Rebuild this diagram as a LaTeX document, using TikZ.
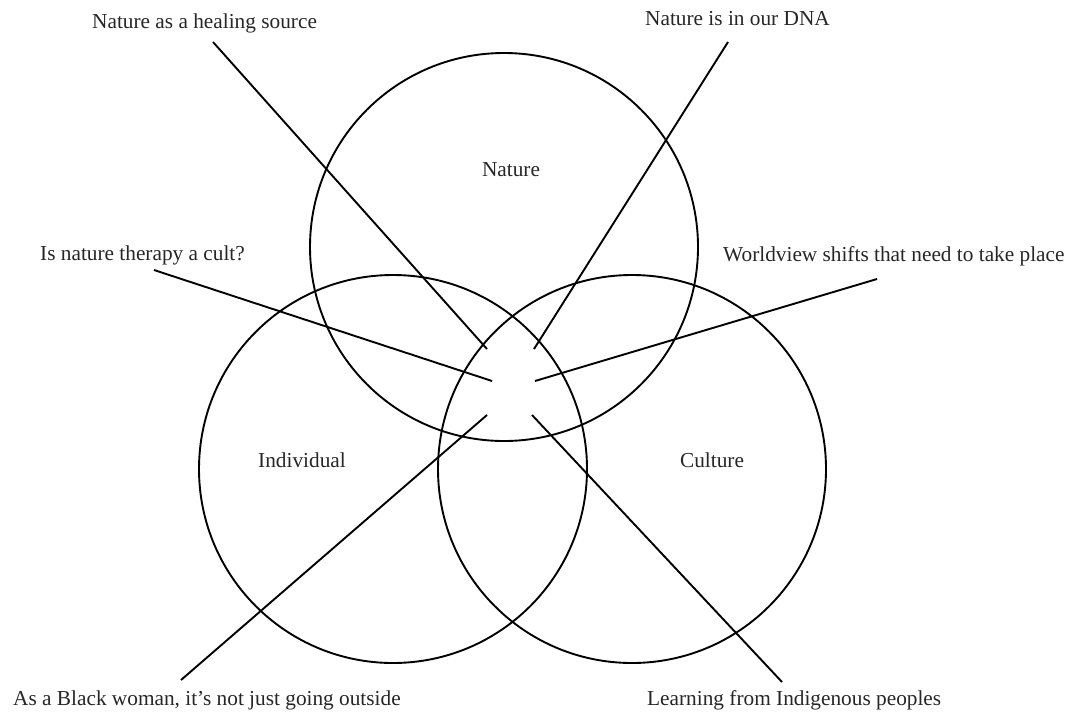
\documentclass[tikz,border=0pt]{standalone}
\usepackage{fontspec}
\setmainfont{Liberation Serif}
\begin{document}
\begin{tikzpicture}[x=1pt,y=-1pt,
  ring/.style={draw, line width=1.9pt, circle, minimum size=388pt, inner sep=0pt},
  link/.style={draw, line width=1.9pt},
  lbl/.style={font=\fontsize{21.3}{24}\selectfont, inner sep=0pt, text=black!85}]
\useasboundingbox (0,0) rectangle (1075,712);
% circles
\node[ring] (nat) at (504,247) {};
\node[ring] (ind) at (393,469) {};
\node[ring] (cul) at (632,469) {};
% circle labels
\node[lbl] (tnat) at (511,170) {Nature};
\node[lbl] (tind) at (302,460) {Individual};
\node[lbl] (tcul) at (712,460) {Culture};
% outer labels
\node[lbl, anchor=base west] (theal) at (92,28) {Nature as a healing source};
\node[lbl, anchor=base west] (tdna) at (645,25) {Nature is in our DNA};
\node[lbl, anchor=base west] (tcult) at (40,260) {Is nature therapy a cult?};
\node[lbl, anchor=base west] (twv) at (723,261) {Worldview shifts that need to take place};
\node[lbl, anchor=base west] (tbw) at (13,705) {As a Black woman, it’s not just going outside};
\node[lbl, anchor=base west] (tlearn) at (647,705) {Learning from Indigenous peoples};
% connector ends
\coordinate (h1) at (213,42);  \coordinate (h2) at (487,349);
\coordinate (d1) at (728,42);  \coordinate (d2) at (534,349);
\coordinate (c1) at (154,270); \coordinate (c2) at (492,381);
\coordinate (w1) at (877,279); \coordinate (w2) at (535,381);
\coordinate (b1) at (181,680); \coordinate (b2) at (487,415);
\coordinate (l1) at (782,682); \coordinate (l2) at (532,415);
\draw[link] (h1) -- (h2);
\draw[link] (d1) -- (d2);
\draw[link] (c1) -- (c2);
\draw[link] (w1) -- (w2);
\draw[link] (b1) -- (b2);
\draw[link] (l1) -- (l2);
\end{tikzpicture}
\end{document}
